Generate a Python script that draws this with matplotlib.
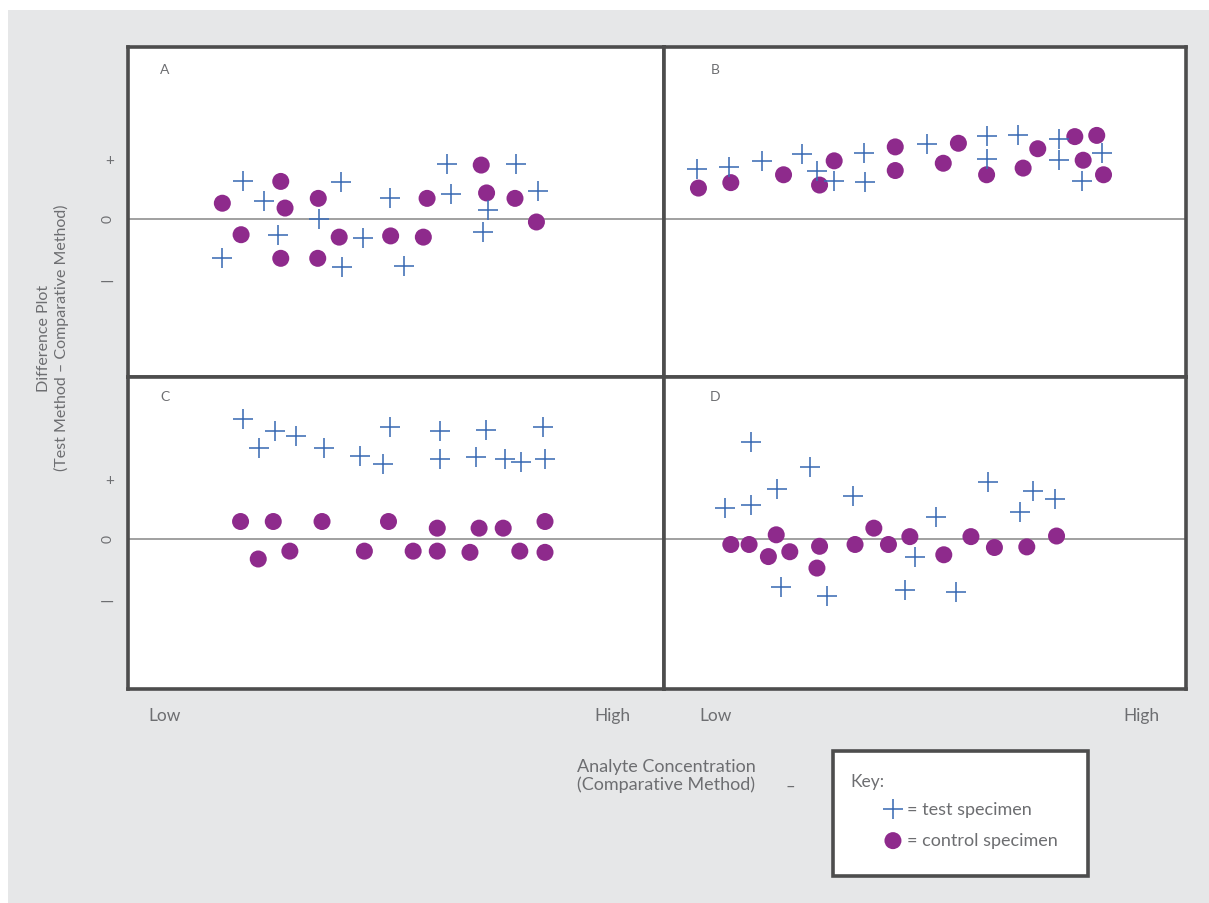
import matplotlib
matplotlib.use("Agg")
import matplotlib.pyplot as plt
from matplotlib.patches import Rectangle

plt.rcParams['font.family'] = ['Lato', 'DejaVu Sans']

# ---------------- data (x: 0 = Low ... 100 = High, y: difference units, + = 1) ----------------
test_A_x = [21.5, 25.4, 39.7, 48.8, 59.6, 72.4, 60.2, 76.5, 67.1, 35.6, 28.0, 43.8, 66.3, 17.5, 39.9, 51.5]
test_A_y = [0.62, 0.30, 0.61, 0.35, 0.91, 0.91, 0.42, 0.47, 0.14, 0.00, -0.26, -0.31, -0.22, -0.65, -0.79, -0.77]
ctrl_A_x = [17.6, 28.5, 29.3, 35.5, 55.8, 65.9, 66.9, 72.2, 76.2, 21.1, 39.4, 49.0, 55.1, 28.5, 35.4]
ctrl_A_y = [0.26, 0.62, 0.18, 0.34, 0.34, 0.89, 0.43, 0.34, -0.05, -0.26, -0.30, -0.28, -0.30, -0.65, -0.65]

test_B_x = [6.4, 12.5, 18.8, 26.4, 29.3, 32.6, 38.4, 38.5, 50.4, 61.8, 61.8, 67.9, 75.7, 75.7, 83.9, 80.0]
test_B_y = [0.83, 0.86, 0.96, 1.07, 0.80, 0.63, 1.09, 0.61, 1.23, 1.37, 0.99, 1.38, 1.32, 0.97, 1.09, 0.62]
ctrl_B_x = [6.6, 12.8, 22.9, 29.8, 32.6, 44.3, 44.3, 53.5, 56.4, 61.8, 68.8, 71.6, 78.7, 82.9, 80.3, 84.2]
ctrl_B_y = [0.51, 0.60, 0.73, 0.56, 0.96, 1.19, 0.80, 0.92, 1.25, 0.73, 0.84, 1.16, 1.36, 1.38, 0.97, 0.73]

test_C_x = [21.4, 24.5, 27.4, 31.3, 36.6, 43.3, 47.6, 48.9, 58.2, 58.2, 66.8, 64.9, 70.3, 73.4, 77.5, 77.8]
test_C_y = [1.98, 1.50, 1.79, 1.71, 1.50, 1.38, 1.24, 1.85, 1.79, 1.32, 1.80, 1.35, 1.32, 1.28, 1.85, 1.32]
ctrl_C_x = [21.0, 27.1, 36.2, 48.6, 57.7, 65.5, 70.0, 77.8, 24.3, 30.2, 44.1, 53.2, 57.7, 63.8, 73.1, 77.8]
ctrl_C_y = [0.29, 0.29, 0.29, 0.29, 0.18, 0.18, 0.18, 0.29, -0.33, -0.20, -0.20, -0.20, -0.20, -0.22, -0.20, -0.22]

test_D_x = [16.6, 28.0, 21.6, 11.7, 16.6, 36.3, 62.1, 70.7, 74.9, 68.2, 52.2, 48.1, 22.5, 31.2, 46.2, 55.9]
test_D_y = [1.60, 1.19, 0.83, 0.51, 0.56, 0.72, 0.94, 0.80, 0.66, 0.45, 0.36, -0.29, -0.80, -0.94, -0.85, -0.87]
ctrl_D_x = [12.8, 16.3, 21.5, 20.0, 24.1, 29.8, 29.3, 36.6, 40.2, 43.0, 47.1, 53.6, 58.8, 63.3, 69.5, 75.2]
ctrl_D_y = [-0.09, -0.09, 0.07, -0.29, -0.21, -0.12, -0.48, -0.09, 0.18, -0.09, 0.04, -0.26, 0.04, -0.14, -0.13, 0.05]

panel_letters = ['A', 'B', 'C', 'D']
y_tick_values = [1, 0, -1]
y_tick_labels = ['+', '0', '\u2014']
x_tick_labels = ['Low', 'High']
x_ticks_left = [6.9, 90.3]
x_ticks_right = [9.8, 91.4]
legend_labels = ['= test specimen', '= control specimen']

# ---------------- style ----------------
W, H = 1209, 904
TXT = '#6d6e71'
FRAME = '#4d4d4d'
BLUE = '#3d6db5'
PURPLE = '#8e2a8c'
BG = '#e6e7e8'

fig = plt.figure(figsize=(W / 100, H / 100), dpi=100, facecolor='white')


def fx(px):
    return px / W


def fy(py):
    return 1 - py / H


fig.patches.append(Rectangle((fx(8), 0), 1, fy(11), transform=fig.transFigure,
                             facecolor=BG, edgecolor='none', zorder=-10))

wl, wr = (664 - 128) / W, (1186 - 664) / W
ht, hb = (378 - 48) / H, (690 - 378) / H
axA = fig.add_axes([fx(128), fy(378), wl, ht])
axB = fig.add_axes([fx(664), fy(378), wr, ht])
axC = fig.add_axes([fx(128), fy(690), wl, hb])
axD = fig.add_axes([fx(664), fy(690), wr, hb])

panels = [
    (axA, test_A_x, test_A_y, ctrl_A_x, ctrl_A_y, (-2.61, 2.84), (0.069, 0.933)),
    (axB, test_B_x, test_B_y, ctrl_B_x, ctrl_B_y, (-2.61, 2.84), (0.098, 0.933)),
    (axC, test_C_x, test_C_y, ctrl_C_x, ctrl_C_y, (-2.48, 2.68), (0.069, 0.939)),
    (axD, test_D_x, test_D_y, ctrl_D_x, ctrl_D_y, (-2.48, 2.68), (0.098, 0.939)),
]

handles = None
for (ax, tx, ty, cx, cy, ylim, lpos), letter in zip(panels, panel_letters):
    ax.set_facecolor('white')
    ax.set_xlim(0, 100)
    ax.set_ylim(*ylim)
    for sp in ax.spines.values():
        sp.set_color(FRAME)
        sp.set_linewidth(2.6)
    ax.axhline(0, color='#a0a0a0', lw=1.4, zorder=1)
    h1 = ax.scatter(tx, ty, marker='+', s=200, color=BLUE, linewidths=1.15, zorder=3)
    h2 = ax.scatter(cx, cy, marker='o', s=150, color=PURPLE, edgecolors='none', zorder=2)
    if handles is None:
        handles = [h1, h2]
    ax.text(lpos[0], lpos[1], letter, transform=ax.transAxes, ha='center', va='center',
            fontsize=10, color=TXT)
    ax.tick_params(length=0)
    ax.set_xticks([])
    ax.set_yticks([])

for ax in (axA, axC):
    ax.set_yticks(y_tick_values, y_tick_labels)
    ax.tick_params(axis='y', length=0, pad=10, labelsize=10, labelcolor=TXT)
    for lbl in ax.get_yticklabels():
        if lbl.get_text() == '0':
            lbl.set_rotation(90)
        elif lbl.get_text() == '+':
            lbl.set_fontsize(11)
        else:
            lbl.set_fontsize(13)

axC.set_xticks(x_ticks_left, x_tick_labels)
axD.set_xticks(x_ticks_right, x_tick_labels)
for ax in (axC, axD):
    ax.tick_params(axis='x', length=0, pad=13, labelsize=12.5, labelcolor=TXT)

fig.text(fx(53), fy(338), 'Difference Plot\n(Test Method \u2013 Comparative Method)',
         rotation=90, ha='center', va='center', multialignment='center',
         fontsize=11.5, color=TXT, linespacing=1.3)

fig.text(fx(666), fy(776), 'Analyte Concentration\n(Comparative Method)',
         ha='center', va='center', multialignment='center', fontsize=13, color=TXT,
         linespacing=1.15)
fig.text(fx(790), fy(787), '\u2013', ha='center', va='center', fontsize=12, color=TXT)

fig.patches.append(Rectangle((fx(833), fy(877)), 255 / W, 125 / H, transform=fig.transFigure,
                             facecolor='white', edgecolor=FRAME, linewidth=2.6, zorder=1))
fig.text(fx(850), fy(782), 'Key:', ha='left', va='center', fontsize=12.5, color=TXT, zorder=3)
leg = fig.legend(handles=handles, labels=legend_labels, loc='upper left',
                 bbox_to_anchor=(fx(874), fy(793)), frameon=False, borderpad=0,
                 handlelength=1.1, handletextpad=0.25, labelspacing=0.85, fontsize=13,
                 labelcolor=TXT, scatterpoints=1)
leg.set_zorder(4)

fig.savefig('out.png', dpi=100, facecolor=fig.get_facecolor())
